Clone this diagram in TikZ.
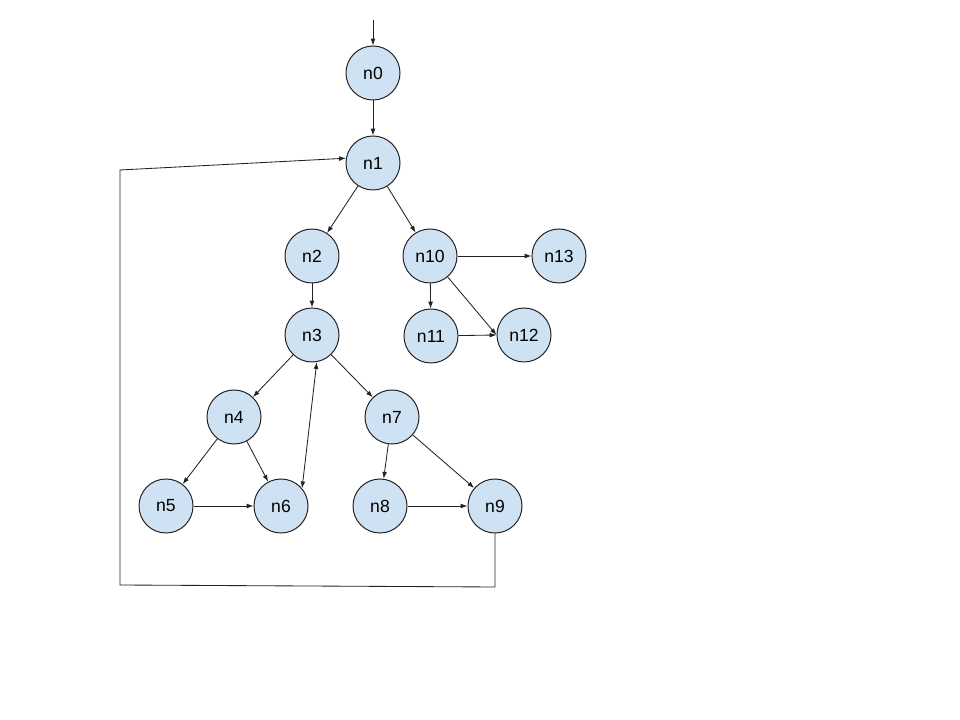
\documentclass[tikz,border=0pt]{standalone}
\usepackage{fontspec}
\setmainfont{Liberation Sans}
\usetikzlibrary{arrows.meta,positioning,calc}
\definecolor{nodeBlue}{HTML}{CFE2F3}
\definecolor{edgeGray}{HTML}{222222}

\begin{document}
\begin{tikzpicture}[x=0.025cm,y=-0.025cm,
    vtx/.style={circle,draw=edgeGray,fill=nodeBlue,line width=0.7pt,minimum size=1.35cm,inner sep=0pt,font=\fontsize{12.5}{14}\selectfont},
    edge/.style={-{Latex[length=1.7mm,width=1.2mm]},edgeGray,line width=0.6pt}]
      \useasboundingbox (0,0) rectangle (960,720);
      \node[vtx] (n0) at (373,73) {n0};
      \node[vtx] (n1) at (373,163) {n1};
      \node[vtx] (n2) at (312,256) {n2};
      \node[vtx] (n10) at (430,256) {n10};
      \node[vtx] (n13) at (559,256) {n13};
      \node[vtx] (n3) at (312,335) {n3};
      \node[vtx] (n11) at (431,336) {n11};
      \node[vtx] (n12) at (524,335) {n12};
      \node[vtx] (n4) at (234,417) {n4};
      \node[vtx] (n7) at (392,417) {n7};
      \node[vtx] (n5) at (166,506) {n5};
      \node[vtx] (n6) at (281,506) {n6};
      \node[vtx] (n8) at (380,506) {n8};
      \node[vtx] (n9) at (495,506) {n9};
      \coordinate (start) at (373,20);
      \coordinate (loopA) at (495,587);
      \coordinate (loopB) at (120,585);
      \coordinate (loopC) at (120,170);
      \draw[edge] (start) -- (n0);
      \draw[edge] (n0) -- (n1);
      \draw[edge] (n1) -- (n2);
      \draw[edge] (n1) -- (n10);
      \draw[edge] (n2) -- (n3);
      \draw[edge] (n10) -- (n13);
      \draw[edge] (n10) -- (n11);
      \draw[edge] (n10) -- (n12.west);
      \draw[edge] (n11) -- (n12.west);
      \draw[edge] (n3) -- (n4);
      \draw[edge] (n3) -- (n7);
      \draw[edge,{Latex[length=1.7mm,width=1.2mm]}-{Latex[length=1.7mm,width=1.2mm]}] (n3.-80) -- (n6.40);
      \draw[edge] (n4) -- (n5);
      \draw[edge] (n4) -- (n6);
      \draw[edge] (n5) -- (n6);
      \draw[edge] (n7) -- (n8);
      \draw[edge] (n7) -- (n9);
      \draw[edge] (n8) -- (n9);
      \draw[edge] (n9.south) -- (loopA) -- (loopB) -- (loopC) -- (n1.170);
    \end{tikzpicture}
\end{document}
